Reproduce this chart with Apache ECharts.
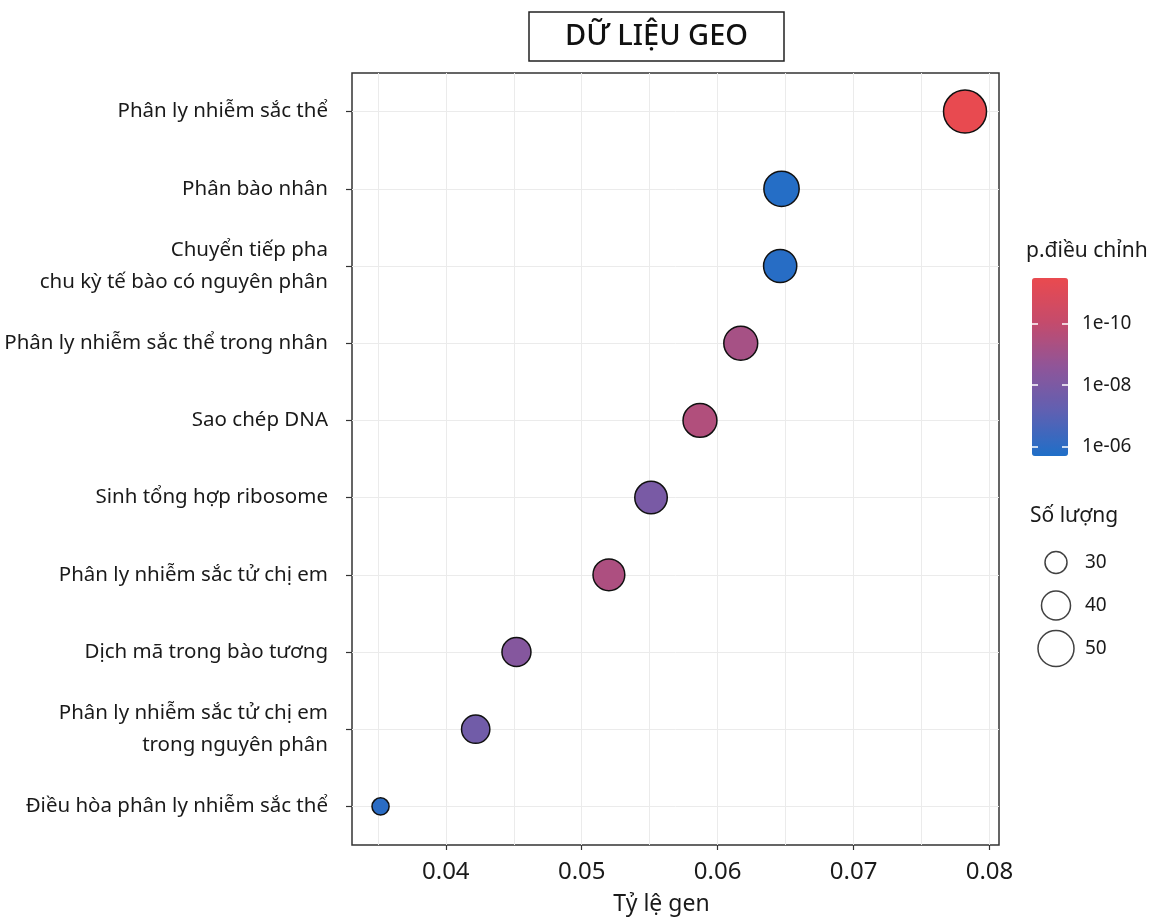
<!DOCTYPE html>
<html>
<head>
<meta charset="utf-8">
<script src="https://cdn.jsdelivr.net/npm/echarts@6/dist/echarts.min.js"></script>
<style>
html,body{margin:0;padding:0;background:#fff;}
#chart{width:1157px;height:920px;}
</style>
</head>
<body>
<div id="chart"></div>
<script>
// ---- data (top to bottom) ----
var categories = [
  'Phân ly nhiễm sắc thể',
  'Phân bào nhân',
  'Chuyển tiếp pha\nchu kỳ tế bào có nguyên phân',
  'Phân ly nhiễm sắc thể trong nhân',
  'Sao chép DNA',
  'Sinh tổng hợp ribosome',
  'Phân ly nhiễm sắc tử chị em',
  'Dịch mã trong bào tương',
  'Phân ly nhiễm sắc tử chị em\ntrong nguyên phân',
  'Điều hòa phân ly nhiễm sắc thể'
];
var geneRatio = [0.0782, 0.0647, 0.0646, 0.0617, 0.0587, 0.0551, 0.0520, 0.0452, 0.0422, 0.0352];
var counts    = [60, 49, 46, 47, 47, 45, 44, 40, 39, 23];
var pAdjust   = [4e-12, 1.4e-6, 1.3e-6, 6e-10, 3e-10, 1.2e-8, 4e-10, 5e-9, 2e-8, 1.1e-6];

var xTicks = [0.04, 0.05, 0.06, 0.07, 0.08];
var xGridLines = [0.035, 0.04, 0.045, 0.05, 0.055, 0.06, 0.065, 0.07, 0.075, 0.08];
var colorTicks = [6, 8, 10];          // -log10(p.adj) ticks: 1e-06, 1e-08, 1e-10
var sizeLegend = [30, 40, 50];

var FONT = "'Noto Sans', 'Open Sans', sans-serif";
var TXT = '#1a1a1a';

function sizeOf(c) { return 1 + 0.7 * c; }

var mainData = categories.map(function (c, i) {
  return [geneRatio[i], i, counts[i], -Math.log10(pAdjust[i])];
});
var legendData = sizeLegend.map(function (v) { return [0, String(v), v]; });

var chart = echarts.init(document.getElementById('chart'));
chart.setOption({
  backgroundColor: '#ffffff',
  animation: false,
  textStyle: { fontFamily: FONT },
  title: [
    {
      text: 'DỮ LIỆU GEO', left: 529, top: 12,
      borderColor: '#222', borderWidth: 1.5, padding: [8, 36],
      textStyle: { fontFamily: FONT, fontSize: 29, fontWeight: 500, color: '#111', lineHeight: 33 }
    },
    {
      text: 'p.điều chỉnh', left: 1026, top: 241, padding: 0,
      textStyle: { fontFamily: FONT, fontSize: 21, fontWeight: 'normal', color: TXT }
    },
    {
      text: 'Số lượng', left: 1030, top: 506, padding: 0,
      textStyle: { fontFamily: FONT, fontSize: 21, fontWeight: 'normal', color: TXT }
    }
  ],
  grid: [
    { left: 352, right: 158, top: 73, bottom: 75, show: true, borderColor: '#333', borderWidth: 1.5, backgroundColor: 'transparent', containLabel: false, outerBoundsMode: 'none' },
    { left: 1032, top: 278, width: 36, height: 178, containLabel: false, outerBoundsMode: 'none' },
    { left: 1036, top: 541, width: 40, height: 129, containLabel: false, outerBoundsMode: 'none' }
  ],
  xAxis: [
    {
      type: 'value', gridIndex: 0, min: 0.0331, max: 0.0807, z: 5, position: 'bottom',
      name: 'Tỷ lệ gen', nameLocation: 'middle', nameGap: 48,
      nameTextStyle: { fontFamily: FONT, fontSize: 23, color: TXT, padding: [0, 28, 0, 0] },
      axisLine: { show: false, onZero: false },
      axisTick: { show: true, customValues: xTicks, length: 5, lineStyle: { color: '#333', width: 1.2 } },
      axisLabel: { customValues: xTicks, fontSize: 24, color: TXT, margin: 15, formatter: function (v) { return v.toFixed(2); } },
      splitLine: { show: false }
    },
    {
      type: 'value', gridIndex: 0, min: 0.0331, max: 0.0807, position: 'bottom',
      axisLine: { show: false, onZero: false }, axisLabel: { show: false },
      axisTick: { show: false, customValues: xGridLines },
      splitLine: { show: true, lineStyle: { color: '#ebebeb', width: 1 } }
    },
    { type: 'value', gridIndex: 1, min: 0, max: 1, show: false },
    { type: 'value', gridIndex: 2, min: -1, max: 1, show: false }
  ],
  yAxis: [
    {
      type: 'value', gridIndex: 0, min: -0.5, max: 9.5, inverse: true, z: 5, position: 'left',
      axisLine: { show: false, onZero: false },
      axisTick: { show: true, customValues: categories.map(function (c, i) { return i; }), length: 6, lineStyle: { color: '#333', width: 1.2 } },
      axisLabel: {
        customValues: categories.map(function (c, i) { return i; }),
        formatter: function (v) { return categories[Math.round(v)]; },
        fontSize: 20.5, lineHeight: 32, color: TXT, margin: 24, align: 'right'
      },
      splitLine: { show: true, lineStyle: { color: '#ebebeb', width: 1 } }
    },
    {
      type: 'value', gridIndex: 1, min: 5.71, max: 11.47, position: 'left', z: 10,
      axisLine: { show: false, onZero: false }, axisLabel: { show: false }, splitLine: { show: false },
      axisTick: { show: true, inside: true, length: 6, customValues: colorTicks, lineStyle: { color: '#ffffff', width: 1.5 } }
    },
    {
      type: 'value', gridIndex: 1, min: 5.71, max: 11.47, position: 'right', z: 10,
      axisLine: { show: false, onZero: false }, splitLine: { show: false },
      axisTick: { show: true, inside: true, length: 6, customValues: colorTicks, lineStyle: { color: '#ffffff', width: 1.5 } },
      axisLabel: {
        customValues: colorTicks, margin: 14, fontSize: 19, color: TXT,
        formatter: function (v) { return '1e-' + (v < 10 ? '0' : '') + v; }
      }
    },
    {
      type: 'category', gridIndex: 2, data: sizeLegend.map(String), inverse: true, position: 'right',
      axisLine: { show: false, onZero: false }, axisTick: { show: false }, splitLine: { show: false },
      axisLabel: { margin: 9, fontSize: 19, color: TXT }
    }
  ],
  visualMap: {
    type: 'continuous', seriesIndex: 0, dimension: 3,
    min: 5.71, max: 11.47, left: 1032, top: 278, padding: 0,
    itemWidth: 36, itemHeight: 178, calculable: false, hoverLink: false,
    text: null, showLabel: false,
    inRange: { color: ['#1f6fc8', '#5f60b2', '#8f5599', '#c44b6c', '#ea4a4f'] }
  },
  series: [
    {
      type: 'scatter', xAxisIndex: 0, yAxisIndex: 0, z: 10,
      data: mainData,
      symbolSize: function (v) { return sizeOf(v[2]); },
      itemStyle: { borderColor: '#111', borderWidth: 1.5, opacity: 1 }
    },
    {
      type: 'scatter', xAxisIndex: 3, yAxisIndex: 3,
      data: legendData,
      symbolSize: function (v) { return sizeOf(v[2]); },
      itemStyle: { color: '#ffffff', borderColor: '#111', borderWidth: 1.5 }
    }
  ]
});
</script>
</body>
</html>
